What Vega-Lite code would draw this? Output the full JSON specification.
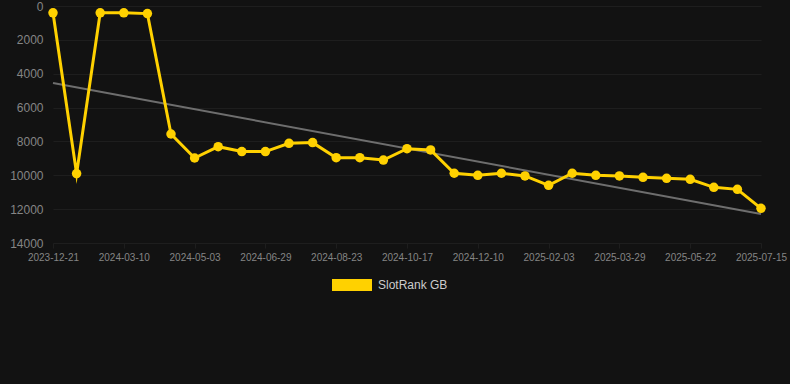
{
  "$schema": "https://vega.github.io/schema/vega-lite/v6.json",
  "width": 708,
  "height": 237,
  "autosize": "none",
  "padding": {"left": 53, "top": 6, "right": 29, "bottom": 141},
  "background": "#121212",
  "config": {
    "view": {"stroke": null},
    "font": "Liberation Sans",
    "axis": {
      "gridColor": "#1e1e1e",
      "gridWidth": 1,
      "domain": false,
      "tickColor": "#1e1e1e",
      "labelColor": "#858585",
      "titleColor": "#858585"
    }
  },
  "datasets": {
    "rank": [
      {"date": "2023-12-21", "rank": 400},
      {"date": "2024-01-17", "rank": 9900},
      {"date": "2024-02-13", "rank": 400},
      {"date": "2024-03-10", "rank": 400},
      {"date": "2024-03-28", "rank": 450},
      {"date": "2024-04-15", "rank": 7560},
      {"date": "2024-05-03", "rank": 8980},
      {"date": "2024-05-22", "rank": 8310},
      {"date": "2024-06-10", "rank": 8600},
      {"date": "2024-06-29", "rank": 8600},
      {"date": "2024-07-17", "rank": 8110},
      {"date": "2024-08-05", "rank": 8070},
      {"date": "2024-08-23", "rank": 8960},
      {"date": "2024-09-10", "rank": 8960},
      {"date": "2024-09-29", "rank": 9100},
      {"date": "2024-10-17", "rank": 8430},
      {"date": "2024-11-04", "rank": 8500},
      {"date": "2024-11-22", "rank": 9880},
      {"date": "2024-12-10", "rank": 10000},
      {"date": "2024-12-28", "rank": 9880},
      {"date": "2025-01-16", "rank": 10040},
      {"date": "2025-02-03", "rank": 10590},
      {"date": "2025-02-21", "rank": 9880},
      {"date": "2025-03-11", "rank": 10000},
      {"date": "2025-03-29", "rank": 10040},
      {"date": "2025-04-16", "rank": 10120},
      {"date": "2025-05-04", "rank": 10180},
      {"date": "2025-05-22", "rank": 10240},
      {"date": "2025-06-09", "rank": 10710},
      {"date": "2025-06-27", "rank": 10830},
      {"date": "2025-07-15", "rank": 11950}
    ],
    "trend": [
      {"date": "2023-12-21", "rank": 4550},
      {"date": "2025-07-15", "rank": 12290}
    ]
  },
  "encoding": {
    "x": {
      "field": "date",
      "type": "ordinal",
      "scale": {"type": "point", "padding": 0},
      "axis": {
        "title": null,
        "labelAngle": 0,
        "labelFontSize": 10,
        "labelPadding": 4,
        "tickSize": 5,
        "values": ["2023-12-21", "2024-03-10", "2024-05-03", "2024-06-29", "2024-08-23", "2024-10-17", "2024-12-10", "2025-02-03", "2025-03-29", "2025-05-22", "2025-07-15"]
      }
    },
    "y": {
      "field": "rank",
      "type": "quantitative",
      "scale": {"domain": [0, 14000], "reverse": true, "nice": false},
      "axis": {
        "title": null,
        "format": "d",
        "values": [0, 2000, 4000, 6000, 8000, 10000, 12000, 14000],
        "labelFontSize": 12,
        "labelPadding": 10,
        "ticks": false
      }
    }
  },
  "layer": [
    {
      "data": {"name": "trend"},
      "mark": {"type": "line", "color": "#6e6e6e", "strokeWidth": 2},
      "encoding": {}
    },
    {
      "data": {"name": "rank"},
      "mark": {
        "type": "line",
        "strokeWidth": 3,
        "strokeJoin": "miter",
        "strokeMiterLimit": 10,
        "point": {"filled": true, "size": 90, "opacity": 1}
      },
      "encoding": {
        "color": {
          "datum": "SlotRank GB",
          "type": "nominal",
          "scale": {"domain": ["SlotRank GB"], "range": ["#FFD100"]},
          "legend": {
            "title": null,
            "orient": "none",
            "legendX": 279,
            "legendY": 259,
            "symbolType": "M-1,-0.3L1,-0.3L1,0.3L-1,0.3Z",
            "symbolSize": 1600,
            "symbolStrokeWidth": 0,
            "symbolFillColor": "#FFD100",
            "labelColor": "#cccccc",
            "labelFontSize": 12,
            "labelOffset": 6
          }
        }
      }
    }
  ]
}
